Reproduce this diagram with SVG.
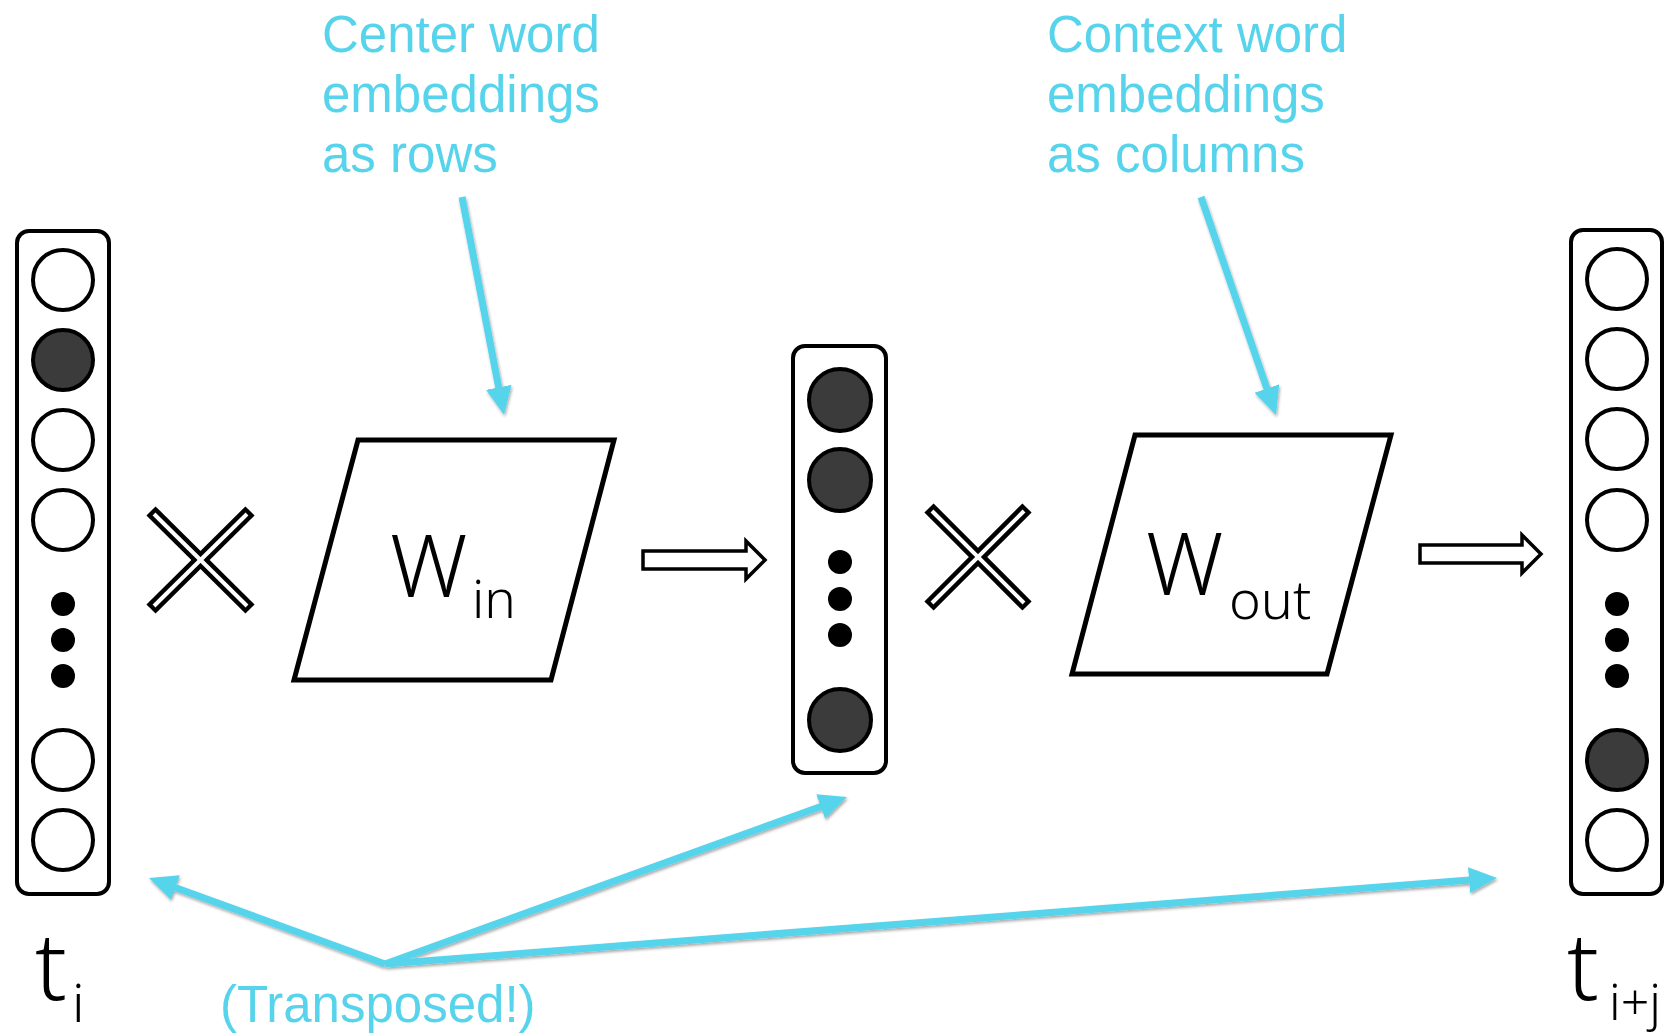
<svg xmlns="http://www.w3.org/2000/svg" width="1667" height="1036" viewBox="0 0 1667 1036">
<defs>
<style>
.box{fill:#fff;stroke:#000;stroke-width:4}
.c{fill:#fff;stroke:#000;stroke-width:4}
.f{fill:#3b3b3b;stroke:#000;stroke-width:4}
.d{fill:#000}
.xb{stroke:#000;stroke-width:13;stroke-linecap:butt}
.xw{stroke:#fff;stroke-width:4;stroke-linecap:butt}
.para{fill:#fff;stroke:#000;stroke-width:5;stroke-linejoin:miter}
.imp{fill:#fff;stroke:#000;stroke-width:3.5;stroke-linejoin:miter}
.lbl{font-family:"Noto Sans","Open Sans","DejaVu Sans",sans-serif;fill:#000;font-weight:300}
.blue{font-family:"Liberation Sans",Arial,sans-serif;fill:#57D4EC;font-size:51px}
.ba{stroke:#57D4EC;stroke-width:7;fill:none;marker-end:url(#ah)}
</style>
<marker id="ah" markerUnits="userSpaceOnUse" markerWidth="30" markerHeight="28" refX="20" refY="13" orient="auto">
<path d="M0,0 L28,13 L0,26 z" fill="#57D4EC"/>
</marker>
<filter id="sh" x="-5%" y="-20%" width="110%" height="140%">
<feDropShadow dx="1" dy="2" stdDeviation="1.5" flood-color="#000" flood-opacity="0.35"/>
</filter>
</defs>

<g id="ti">
<rect class="box" x="17" y="231" width="92" height="663" rx="12"/>
<circle class="c" cx="63" cy="280" r="30"/>
<circle class="f" cx="63" cy="360" r="30"/>
<circle class="c" cx="63" cy="440" r="30"/>
<circle class="c" cx="63" cy="520" r="30"/>
<circle class="d" cx="63" cy="604" r="12"/>
<circle class="d" cx="63" cy="640" r="12"/>
<circle class="d" cx="63" cy="676" r="12"/>
<circle class="c" cx="63" cy="760" r="30"/>
<circle class="c" cx="63" cy="840" r="30"/>
<text class="lbl" x="35" y="1000" font-size="94">t</text>
<text class="lbl" x="72" y="1022" font-size="54">i</text>
</g>

<g id="times1">
<line class="xb" x1="151" y1="511" x2="250" y2="609"/>
<line class="xb" x1="250" y1="511" x2="151" y2="609"/>
<line class="xw" x1="154" y1="514" x2="247" y2="606"/>
<line class="xw" x1="247" y1="514" x2="154" y2="606"/>
</g>

<g id="win">
<polygon class="para" points="358,440 614,440 551,680 294,680"/>
<text class="lbl" x="390" y="597" font-size="86">W</text>
<text class="lbl" x="472" y="618" font-size="53">in</text>
</g>

<g id="imp1">
<polygon class="imp" points="643,551 746,551 746,541 765,560 746,579 746,569 643,569"/>
</g>

<g id="hidden">
<rect class="box" x="793" y="346" width="93" height="427" rx="12"/>
<circle class="f" cx="840" cy="400" r="31"/>
<circle class="f" cx="840" cy="480" r="31"/>
<circle class="d" cx="840" cy="562" r="12"/>
<circle class="d" cx="840" cy="599" r="12"/>
<circle class="d" cx="840" cy="635" r="12"/>
<circle class="f" cx="840" cy="720" r="31"/>
</g>

<g id="times2">
<line class="xb" x1="929" y1="508" x2="1027" y2="606"/>
<line class="xb" x1="1027" y1="508" x2="929" y2="606"/>
<line class="xw" x1="932" y1="511" x2="1024" y2="603"/>
<line class="xw" x1="1024" y1="511" x2="932" y2="603"/>
</g>

<g id="wout">
<polygon class="para" points="1135,435 1391,435 1327,674 1072,674"/>
<text class="lbl" x="1146" y="595" font-size="86">W</text>
<text class="lbl" x="1229" y="619" font-size="54">out</text>
</g>

<g id="imp2">
<polygon class="imp" points="1420,545 1522,545 1522,535 1541,554 1522,573 1522,563 1420,563"/>
</g>

<g id="tij">
<rect class="box" x="1571" y="230" width="91" height="664" rx="12"/>
<circle class="c" cx="1617" cy="279" r="30"/>
<circle class="c" cx="1617" cy="359" r="30"/>
<circle class="c" cx="1617" cy="439" r="30"/>
<circle class="c" cx="1617" cy="520" r="30"/>
<circle class="d" cx="1617" cy="604" r="12"/>
<circle class="d" cx="1617" cy="640" r="12"/>
<circle class="d" cx="1617" cy="676" r="12"/>
<circle class="f" cx="1617" cy="760" r="30"/>
<circle class="c" cx="1617" cy="840" r="30"/>
<text class="lbl" x="1567" y="1000" font-size="94">t</text>
<text class="lbl" x="1609" y="1020" font-size="50">i+j</text>
</g>

<g id="note-center">
<text class="blue" x="322" y="52">Center word</text>
<text class="blue" x="322" y="112">embeddings</text>
<text class="blue" x="322" y="172">as rows</text>
</g>

<g id="note-context">
<text class="blue" x="1047" y="52">Context word</text>
<text class="blue" x="1047" y="112">embeddings</text>
<text class="blue" x="1047" y="172">as columns</text>
</g>

<g id="note-transposed">
<text class="blue" x="220" y="1022" font-size="50">(Transposed!)</text>
</g>

<g id="connectors" filter="url(#sh)">
<line class="ba" x1="462" y1="197" x2="502.5" y2="407"/>
<line class="ba" x1="1201" y1="197" x2="1273.4" y2="407.4"/>
<line class="ba" x1="385" y1="964" x2="156.5" y2="880.7"/>
<line class="ba" x1="385" y1="964" x2="839.5" y2="799.7"/>
<line class="ba" x1="385" y1="964" x2="1489" y2="878.6"/>
</g>
</svg>
